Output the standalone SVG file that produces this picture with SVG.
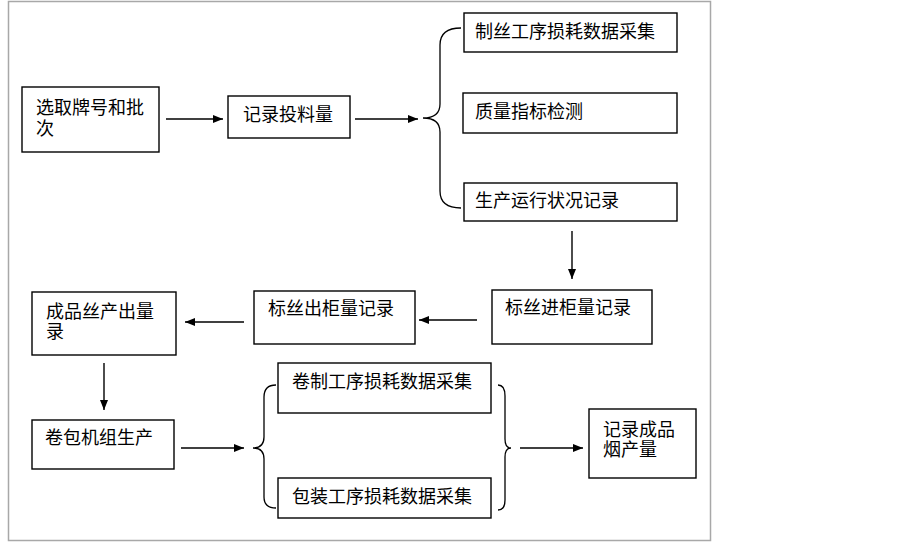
<svg xmlns="http://www.w3.org/2000/svg" width="902" height="544" viewBox="0 0 902 544">
<defs>
<style>
.box{fill:#fff;stroke:#000;stroke-width:1.4}
.t{font-family:"Noto Sans CJK SC","Noto Sans",sans-serif;font-size:18px;fill:#000}
.c{fill:none;stroke:#000;stroke-width:1.4}
.b{fill:none;stroke:#000;stroke-width:1.3}
</style>
<marker id="ah" viewBox="0 0 10 8" refX="10" refY="4" markerWidth="10" markerHeight="8" markerUnits="userSpaceOnUse" orient="auto">
<path d="M0,0 L10,4 L0,8 Z" fill="#000"/>
</marker>
</defs>
<rect x="0" y="0" width="902" height="544" fill="#fff"/>
<rect x="8.5" y="1.5" width="702" height="539" fill="none" stroke="#a8a8a8" stroke-width="1.5"/>

<g id="n1"><rect class="box" x="22" y="87" width="137" height="65"/><text class="t" x="36" y="114">选取牌号和批<tspan x="36" dy="21">次</tspan></text></g>
<g id="n2"><rect class="box" x="228" y="96" width="122" height="42"/><text class="t" x="243" y="121">记录投料量</text></g>
<g id="n3"><rect class="box" x="464" y="13" width="213" height="39"/><text class="t" x="475" y="38">制丝工序损耗数据采集</text></g>
<g id="n4"><rect class="box" x="463" y="93" width="214" height="40"/><text class="t" x="475" y="118">质量指标检测</text></g>
<g id="n5"><rect class="box" x="464" y="183" width="213" height="38"/><text class="t" x="475" y="207">生产运行状况记录</text></g>
<g id="n6"><rect class="box" x="492" y="290" width="160" height="54"/><text class="t" x="505" y="314">标丝进柜量记录</text></g>
<g id="n7"><rect class="box" x="254" y="291" width="161" height="53"/><text class="t" x="268" y="315">标丝出柜量记录</text></g>
<g id="n8"><rect class="box" x="32" y="292" width="144" height="63"/><text class="t" x="46" y="318">成品丝产出量<tspan x="46" dy="20">录</tspan></text></g>
<g id="n9"><rect class="box" x="32" y="420" width="142" height="49"/><text class="t" x="45" y="444">卷包机组生产</text></g>
<g id="n10"><rect class="box" x="278" y="363" width="213" height="50"/><text class="t" x="292" y="388">卷制工序损耗数据采集</text></g>
<g id="n11"><rect class="box" x="278" y="478" width="213" height="40"/><text class="t" x="292" y="503">包装工序损耗数据采集</text></g>
<g id="n12"><rect class="box" x="589" y="409" width="107" height="69"/><text class="t" x="603" y="436">记录成品<tspan x="603" dy="20">烟产量</tspan></text></g>

<g id="connectors">
<line class="c" x1="166" y1="119" x2="223" y2="119" marker-end="url(#ah)"/>
<line class="c" x1="355" y1="119" x2="418" y2="119" marker-end="url(#ah)"/>
<path class="b" d="M461,28 Q440,28 440,45 L440,104 Q440,118 423,118 Q440,118 440,132 L440,191 Q440,208 461,208"/>
<line class="c" x1="572" y1="231" x2="572" y2="279" marker-end="url(#ah)"/>
<line class="c" x1="477" y1="320" x2="419" y2="320" marker-end="url(#ah)"/>
<line class="c" x1="244" y1="322" x2="185" y2="322" marker-end="url(#ah)"/>
<line class="c" x1="104" y1="363" x2="104" y2="410" marker-end="url(#ah)"/>
<line class="c" x1="181" y1="448" x2="244" y2="448" marker-end="url(#ah)"/>
<path class="b" d="M276,385 Q264,385 264,397 L264,437 Q264,448 253,448 Q264,448 264,459 L264,497 Q264,508 276,508"/>
<path class="b" d="M498,385 Q505,385 505,396 L505,439 Q505,448 511,448 Q505,448 505,457 L505,500 Q505,510 498,510"/>
<line class="c" x1="520" y1="448" x2="583" y2="448" marker-end="url(#ah)"/>
</g>
</svg>
